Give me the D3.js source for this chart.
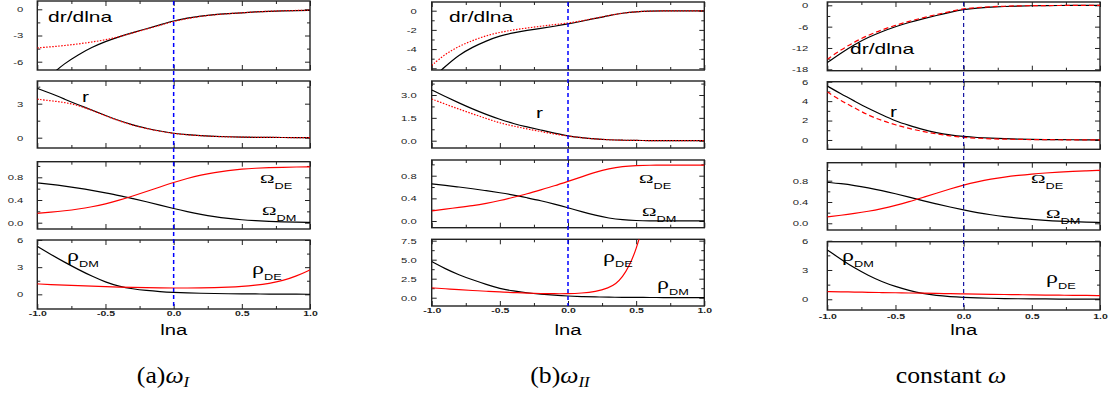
<!DOCTYPE html>
<html>
<head>
<meta charset="utf-8">
<style>
  body { margin: 0; background: #fff; }
  svg { display: block; }
  .ylab text { font: 7.5px "Liberation Sans", Arial, sans-serif; fill: #222; }
  .xlab text { font: bold 7px "Liberation Sans", Arial, sans-serif; fill: #222; }
  .tick line { stroke: #222; stroke-width: 1; }
  .frame { fill: none; stroke: #222; stroke-width: 1.4; }
  .curve { fill: none; stroke-width: 1.2; }
  .sans { font-family: "Liberation Sans", Arial, sans-serif; fill: #000; }
  .serif { font-family: "Liberation Serif", "Times New Roman", serif; fill: #000; }
</style>
</head>
<body>
<svg id="fig" width="1112" height="396"></svg>
<script src="https://d3js.org/d3.v7.min.js"></script>
<script>
// grid of lna values the curves were read at
const lnaGrid = [-1.0,-0.9,-0.8,-0.7,-0.6,-0.5,-0.4,-0.3,-0.2,-0.1,0.0,0.1,0.2,0.3,0.4,0.5,0.6,0.7,0.8,0.9,1.0];

// (a) omega_I
const a_drdlna_black = [-9.3,-7.5,-6.2,-5.2,-4.35,-3.68,-3.14,-2.67,-2.23,-1.78,-1.31,-1.0,-0.76,-0.6,-0.5,-0.4,-0.3,-0.22,-0.18,-0.14,-0.12];
const a_drdlna_red   = [-4.42,-4.3,-4.15,-3.97,-3.75,-3.5,-3.15,-2.7,-2.27,-1.83,-1.38,-1.05,-0.8,-0.62,-0.5,-0.4,-0.3,-0.22,-0.17,-0.13,-0.1];
const a_r_black = [4.35,3.9,3.4,2.9,2.45,1.95,1.5,1.12,0.82,0.58,0.38,0.26,0.18,0.12,0.08,0.05,0.035,0.025,0.015,0.01,0.005];
const a_r_red   = [3.4,3.25,3.12,2.85,2.42,1.93,1.48,1.1,0.8,0.56,0.37,0.25,0.17,0.11,0.07,0.05,0.035,0.025,0.015,0.01,0.005];
const a_omegaDE = [0.165,0.185,0.21,0.24,0.28,0.33,0.395,0.47,0.55,0.63,0.71,0.78,0.84,0.885,0.92,0.945,0.96,0.97,0.977,0.982,0.985];
const a_omegaDM = [0.70,0.675,0.645,0.61,0.57,0.525,0.48,0.425,0.37,0.31,0.25,0.195,0.145,0.105,0.075,0.05,0.035,0.022,0.014,0.008,0.005];
const a_rhoDM = [5.3,4.4,3.55,2.75,2.0,1.35,0.88,0.6,0.42,0.3,0.22,0.16,0.12,0.09,0.065,0.05,0.04,0.03,0.02,0.015,0.01];
const a_rhoDE = [1.15,1.08,1.02,0.96,0.9,0.85,0.8,0.76,0.73,0.71,0.7,0.7,0.71,0.73,0.78,0.86,1.0,1.2,1.5,2.0,2.7];

// (b) omega_II
const b_drdlna_black = [-7.1,-5.8,-4.6,-3.8,-3.15,-2.62,-2.3,-2.05,-1.85,-1.62,-1.38,-1.1,-0.8,-0.5,-0.25,-0.1,-0.04,-0.02,-0.01,-0.01,-0.01];
const b_drdlna_red   = [-5.7,-4.5,-3.7,-3.1,-2.6,-2.25,-2.0,-1.8,-1.62,-1.45,-1.3,-1.06,-0.78,-0.5,-0.25,-0.1,-0.04,-0.02,-0.01,-0.01,-0.01];
const b_r_black = [3.33,2.9,2.48,2.08,1.72,1.4,1.12,0.9,0.7,0.5,0.31,0.19,0.11,0.06,0.03,0.015,0.008,0.005,0.005,0.005,0.005];
const b_r_red   = [2.74,2.4,2.07,1.76,1.46,1.16,0.96,0.77,0.6,0.44,0.3,0.19,0.11,0.06,0.03,0.015,0.008,0.005,0.005,0.005,0.005];
const b_omegaDE = [0.18,0.21,0.24,0.27,0.31,0.36,0.42,0.48,0.55,0.62,0.7,0.78,0.86,0.925,0.965,0.98,0.985,0.985,0.985,0.985,0.985];
const b_omegaDM = [0.655,0.63,0.6,0.57,0.535,0.5,0.46,0.41,0.36,0.3,0.235,0.165,0.1,0.05,0.02,0.008,0.003,0.003,0.003,0.003,0.003];
const b_rhoDM = [4.75,3.8,3.0,2.35,1.75,1.2,0.88,0.64,0.47,0.33,0.22,0.15,0.1,0.07,0.05,0.04,0.03,0.02,0.015,0.01,0.01];
// rho_DE in (b) blows up, read on its own grid
const b_rhoDE_lna = [-1.0,-0.9,-0.8,-0.7,-0.6,-0.5,-0.4,-0.3,-0.2,-0.1,0.0,0.1,0.2,0.3,0.35,0.4,0.45,0.5,0.55];
const b_rhoDE     = [1.3,1.18,1.05,0.95,0.85,0.76,0.68,0.6,0.55,0.52,0.52,0.6,0.78,1.3,1.8,2.7,4.2,6.3,9.5];

// (c) constant omega
const c_drdlna_black = [-16.1,-13.4,-11.0,-9.0,-7.4,-6.0,-4.8,-3.8,-2.85,-1.95,-1.15,-0.75,-0.5,-0.33,-0.2,-0.12,-0.08,-0.05,-0.03,-0.02,-0.01];
const c_drdlna_red   = [-15.2,-12.5,-10.3,-8.4,-6.9,-5.6,-4.5,-3.5,-2.6,-1.75,-0.95,-0.6,-0.4,-0.25,-0.15,-0.1,-0.07,-0.05,-0.03,-0.02,-0.01];
const c_r_black = [5.55,4.75,4.0,3.25,2.6,1.95,1.5,1.07,0.75,0.52,0.35,0.25,0.18,0.13,0.09,0.065,0.045,0.03,0.02,0.015,0.01];
const c_r_red   = [4.95,4.05,3.3,2.55,2.0,1.55,1.18,0.88,0.62,0.42,0.26,0.18,0.12,0.08,0.06,0.04,0.03,0.02,0.015,0.01,0.005];
const c_omegaDE = [0.12,0.15,0.185,0.225,0.275,0.335,0.405,0.485,0.565,0.645,0.72,0.78,0.83,0.87,0.9,0.925,0.945,0.96,0.975,0.985,0.995];
const c_omegaDM = [0.77,0.745,0.71,0.665,0.615,0.555,0.49,0.425,0.365,0.305,0.25,0.2,0.16,0.125,0.095,0.075,0.055,0.04,0.03,0.02,0.015];
const c_rhoDM = [5.05,4.1,3.2,2.45,1.8,1.3,0.9,0.58,0.38,0.27,0.2,0.14,0.1,0.07,0.05,0.04,0.03,0.02,0.015,0.01,0.01];
const c_rhoDE = [0.79,0.76,0.74,0.71,0.69,0.67,0.64,0.62,0.6,0.57,0.55,0.53,0.51,0.49,0.47,0.45,0.43,0.42,0.4,0.39,0.38];

// tick labels
const xTicks = [-1.0,-0.5,0.0,0.5,1.0];
const xMinor = [-0.75,-0.25,0.25,0.75];
const a_yTicks = [[0,-3,-6],[0,3],[0.0,0.4,0.8],[0,3,6]];
const a_yMinor = [[-1.5,-4.5],[1.5,4.5],[0.2,0.6,1.0],[1.5,4.5]];
const b_yTicks = [[0,-2,-4,-6],[0.0,1.5,3.0],[0.0,0.4,0.8],[0.0,2.5,5.0,7.5]];
const b_yMinor = [[-1,-3,-5],[0.75,2.25,3.75],[0.2,0.6,1.0],[1.25,3.75,6.25]];
const c_yTicks = [[0,-6,-12,-18],[0,2,4,6],[0.0,0.4,0.8],[0,3,6]];
const c_yMinor = [[-3,-9,-15],[1,3,5],[0.2,0.6,1.0],[1.5,4.5]];
const captions = ["(a)", "(b)", "constant "];
const captionSubs = ["I", "II", ""];

const svg = d3.select('#fig');
const SX = 1.5;   // the original figure is stretched sideways, text too
const plain = d => String(d);
const one = d => d.toFixed(1);

// layout: left/right of the plot boxes and [top, bottom, ymin, ymax] for each panel
const columns = [
  { left: 37.3, right: 310, pad: 14, xlab: 2.5, lnaY: 335, blue: '#0000ff', blueW: 1.5, redDash: '1.5,1.5', redW: 1.6,
    fmts: [plain, plain, one, plain],
    panels: [[1,70,-6.95,0.95],[81,148,-0.91,5.0],[161.7,229,-0.111,1.075],[240,309,-1.62,6.0]],
    ticks: a_yTicks, minor: a_yMinor,
    series: [[0,a_drdlna_black,a_drdlna_red],[1,a_r_black,a_r_red]],
    pairs: [[2,a_omegaDM,a_omegaDE],[3,a_rhoDM,a_rhoDE]],
    labels: { dr: [48,21.7], r: [82,101.7], oDE: [260,183.3], oDM: [262,215], pDM: [67,261], pDE: [252,274] } },
  { left: 431.7, right: 704.3, pad: 15, xlab: 2.5, lnaY: 335, blue: '#0000ff', blueW: 1.5, redDash: '1.5,1.5', redW: 1.6,
    fmts: [plain, one, one, one],
    panels: [[2,70,-6.18,0.906],[81,148,-0.48,3.92],[160,227.7,-0.118,1.077],[239.3,306,-1.09,7.68]],
    ticks: b_yTicks, minor: b_yMinor,
    series: [[0,b_drdlna_black,b_drdlna_red],[1,b_r_black,b_r_red]],
    pairs: [[2,b_omegaDM,b_omegaDE],[3,b_rhoDM,null]],
    labels: { dr: [449,21.7], r: [536,118.3], oDE: [639,183], oDM: [642,216], pDE: [603,261.7], pDM: [657,289] } },
  { left: 827.3, right: 1100, pad: 19, xlab: 4.5, lnaY: 335, blue: '#00009a', blueW: 1.1, redDash: '5,3', redW: 1.6,
    fmts: [plain, plain, one, plain],
    panels: [[2,70.7,-18.39,0.93],[81.7,149.3,-0.96,6.0],[162.7,230,-0.126,1.138],[241.7,310,-1.1,5.9]],
    ticks: c_yTicks, minor: c_yMinor,
    series: [[0,c_drdlna_black,c_drdlna_red],[1,c_r_black,c_r_red]],
    pairs: [[2,c_omegaDM,c_omegaDE],[3,c_rhoDM,c_rhoDE]],
    labels: { dr: [850,54.3], r: [890,117.3], oDE: [1031,183], oDM: [1046,218], pDM: [842,261], pDE: [1046,283] } }
];
const captionX = [163, 560, 951];

function stretchText(sel) {
  sel.attr('transform', `scale(${SX},1)`);
}

function label(x, y, main, sub, cls, size) {
  const t = svg.append('text')
    .attr('class', cls)
    .attr('transform', `translate(${x},${y}) scale(${SX},1)`)
    .style('font-size', size + 'px');
  t.append('tspan').text(main);
  if (sub) {
    t.append('tspan').attr('class', 'sans').attr('dy', 5.5)
      .style('font-size', '8.5px').text(sub);
  }
}

columns.forEach((col, ci) => {
  const x = d3.scaleLinear().domain([-1, 1]).range([col.left, col.right]);
  const ys = col.panels.map(p => d3.scaleLinear().domain([p[2], p[3]]).range([p[1], p[0]]));
  const curveGroups = [];

  col.panels.forEach((p, pi) => {
    const y = ys[pi];
    const g = svg.append('g');
    const clipId = `clip${ci}${pi}`;
    svg.append('clipPath').attr('id', clipId).append('rect')
      .attr('x', col.left).attr('y', p[0])
      .attr('width', col.right - col.left).attr('height', p[1] - p[0]);

    // ticks on all four sides, pointing inwards
    const left = g.append('g').attr('class', 'ylab').attr('transform', `translate(${col.left},0)`)
      .call(d3.axisLeft(y).tickValues(col.ticks[pi]).tickFormat(col.fmts[pi]).tickSize(-5).tickPadding(col.pad / SX));
    left.selectAll('text').call(stretchText);
    g.append('g').attr('transform', `translate(${col.left},0)`)
      .call(d3.axisLeft(y).tickValues(col.minor[pi]).tickFormat('').tickSize(-3));
    g.append('g').attr('transform', `translate(${col.right},0)`)
      .call(d3.axisRight(y).tickValues(col.ticks[pi]).tickFormat('').tickSize(-5));
    g.append('g').attr('transform', `translate(${col.right},0)`)
      .call(d3.axisRight(y).tickValues(col.minor[pi]).tickFormat('').tickSize(-3));
    g.append('g').attr('transform', `translate(0,${p[0]})`)
      .call(d3.axisTop(x).tickValues(xTicks).tickFormat('').tickSize(-5));
    g.append('g').attr('transform', `translate(0,${p[0]})`)
      .call(d3.axisTop(x).tickValues(xMinor).tickFormat('').tickSize(-3));
    const bottom = g.append('g').attr('class', 'xlab').attr('transform', `translate(0,${p[1]})`)
      .call(d3.axisBottom(x).tickValues(xTicks).tickFormat(pi === 3 ? one : '').tickSize(-5).tickPadding(col.xlab));
    bottom.selectAll('text').call(stretchText);
    g.append('g').attr('transform', `translate(0,${p[1]})`)
      .call(d3.axisBottom(x).tickValues(xMinor).tickFormat('').tickSize(-3));
    g.selectAll('.domain').remove();

    g.append('rect').attr('class', 'frame')
      .attr('x', col.left).attr('y', p[0])
      .attr('width', col.right - col.left).attr('height', p[1] - p[0]);
    curveGroups.push(g.append('g').attr('clip-path', `url(#${clipId})`));
  });

  const line = (yScale, xs) => d3.line()
    .x((d, i) => x(xs[i])).y(d => yScale(d)).curve(d3.curveBasis);

  // dr/dlna and r: black solid vs red dotted/dashed
  col.series.forEach(([pi, blk, red]) => {
    const c = curveGroups[pi];
    c.append('path').attr('class', 'curve').attr('stroke', '#000')
      .attr('d', line(ys[pi], lnaGrid)(blk));
    c.append('path').attr('class', 'curve').attr('stroke', '#ff0000')
      .attr('stroke-width', col.redW).attr('stroke-dasharray', col.redDash)
      .attr('d', line(ys[pi], lnaGrid)(red));
  });
  // Omega and rho: black = DM, red = DE, both solid
  col.pairs.forEach(([pi, dm, de]) => {
    const c = curveGroups[pi];
    c.append('path').attr('class', 'curve').attr('stroke', '#000')
      .attr('d', line(ys[pi], lnaGrid)(dm));
    c.append('path').attr('class', 'curve').attr('stroke', '#ff0000')
      .attr('d', de ? line(ys[pi], lnaGrid)(de) : line(ys[pi], b_rhoDE_lna)(b_rhoDE));
  });

  // vertical dashed line at lna = 0
  svg.append('line')
    .attr('x1', x(0)).attr('x2', x(0))
    .attr('y1', col.panels[0][0]).attr('y2', col.panels[3][1])
    .attr('stroke', col.blue).attr('stroke-width', col.blueW)
    .attr('stroke-dasharray', '4,3');

  const L = col.labels;
  label(L.dr[0], L.dr[1], 'dr/dlna', null, 'sans', 14);
  label(L.r[0], L.r[1], 'r', null, 'sans', 14);
  label(L.oDE[0], L.oDE[1], 'Ω', 'DE', 'serif', 13);
  label(L.oDM[0], L.oDM[1], 'Ω', 'DM', 'serif', 13);
  label(L.pDM[0], L.pDM[1], 'ρ', 'DM', 'serif', 16);
  label(L.pDE[0], L.pDE[1], 'ρ', 'DE', 'serif', 16);

  svg.append('text').attr('class', 'sans')
    .attr('transform', `translate(${x(0)},${col.lnaY}) scale(1.35,1)`)
    .attr('text-anchor', 'middle').style('font-size', '15px').text('lna');

  // caption under each column
  const cap = svg.append('text').attr('class', 'serif')
    .attr('transform', `translate(${captionX[ci]},383) scale(1.12,1)`)
    .attr('text-anchor', 'middle').style('font-size', '23px');
  cap.append('tspan').text(captions[ci]);
  cap.append('tspan').style('font-style', 'italic').text('ω');
  if (captionSubs[ci]) {
    cap.append('tspan').style('font-style', 'italic').style('font-size', '15px')
      .attr('dy', 4).text(captionSubs[ci]);
  }
});
</script>
</body>
</html>
